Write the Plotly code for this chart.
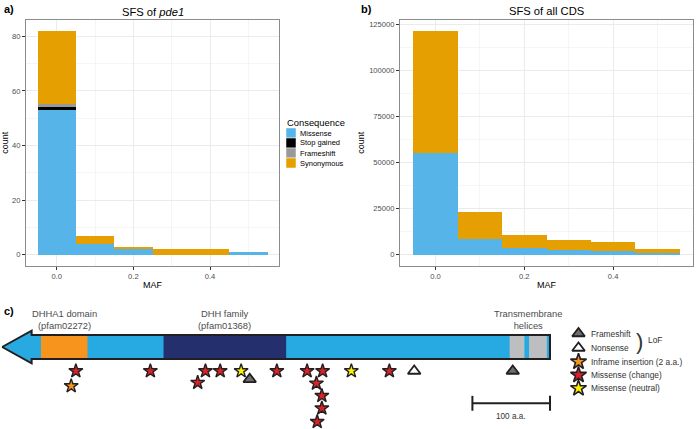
import plotly.graph_objects as go

W, H = 696, 429

# ---------------- data: panels a & b ----------------
maf_bins = [0.0, 0.1, 0.2, 0.3, 0.4, 0.5]
bin_width = 0.1
consequences = ["Missense", "Stop gained", "Frameshift", "Synonymous"]
cons_colors = ["#56B4E9", "#000000", "#999999", "#E69F00"]

pde1_missense = [53, 4, 2, 0, 0, 1]
pde1_stop = [1, 0, 0, 0, 0, 0]
pde1_frameshift = [1, 0, 0, 0, 0, 0]
pde1_synonymous = [27, 3, 1, 2, 2, 0]

cds_missense = [55200, 8800, 3700, 2600, 2100, 900]
cds_stop = [0, 0, 0, 0, 0, 0]
cds_frameshift = [0, 0, 0, 0, 0, 0]
cds_synonymous = [66500, 14600, 7300, 5300, 4900, 2300]

maf_ticks = [0.0, 0.2, 0.4]
maf_ticktext = ["0.0", "0.2", "0.4"]
pde1_yticks = [0, 20, 40, 60, 80]
cds_yticks = [0, 25000, 50000, 75000, 100000, 125000]

# ---------------- data: panel c (protein diagram, amino-acid positions) ----------------
protein_length = 706
arrow_head_start = 668
domain_names = ["DHHA1", "DHH", "TM1", "TM2"]
domain_starts = [596, 340, 33, 4]
domain_ends = [656, 498, 52, 27]
domain_colors = ["#F7941D", "#24306E", "#BCBEC0", "#BCBEC0"]
label_texts = ["DHHA1 domain<br>(pfam02272)", "DHH family<br>(pfam01368)", "Transmembrane<br>helices"]
label_from = [596, 340, 4]
label_to = [656, 498, 52]

var_pos = [611, 617, 515, 444, 454, 425, 398, 387, 352, 313, 293, 301, 294, 294, 300, 256, 207, 175, 48]
var_type = ["change", "inframe", "change", "change", "change", "change", "neutral", "frameshift",
            "change", "change", "change", "change", "change", "change", "change", "neutral",
            "change", "nonsense", "frameshift"]
var_lane = [-2.0, -3.25, -2.0, -2.0, -2.97, -2.0, -2.0, -2.69, -2.0, -2.0, -2.0, -3.03, -4.06,
            -5.11, -6.23, -2.0, -2.0, -2.0, -2.0]

var_types = ["frameshift", "nonsense", "inframe", "change", "neutral"]
var_labels = ["Frameshift", "Nonsense", "Inframe insertion (2 a.a.)", "Missense (change)", "Missense (neutral)"]
var_symbols = ["triangle-up", "triangle-up", "star", "star", "star"]
var_colors = ["#6D6E71", "#FFFFFF", "#F7941D", "#D9232A", "#FFF200"]
scale_bar_aa = 100

# ---------------- layout helpers (pixel geometry) ----------------
def px_x(x):
    return x / W

def px_y(y):
    return 1 - y / H

A_X = [26, 279]
B_X = [400, 693]
AB_Y = [19.5, 266]
C_Y = [300, 429]
aa_px = 0.776           # pixels per amino acid
aa_right_px = 550       # pixel of aa 0
unit_px = 12            # pixels per y unit in panel c
bar_center_px = 347

c_xrange = [aa_right_px / aa_px, (aa_right_px - W) / aa_px]
c_yrange = [(bar_center_px - C_Y[1]) / unit_px, (bar_center_px - C_Y[0]) / unit_px]

fig = go.Figure()

series_a = [pde1_missense, pde1_stop, pde1_frameshift, pde1_synonymous]
series_b = [cds_missense, cds_stop, cds_frameshift, cds_synonymous]
for name, col, va, vb in zip(consequences, cons_colors, series_a, series_b):
    fig.add_trace(go.Bar(x=maf_bins, y=va, width=bin_width, name=name, marker=dict(color=col, line=dict(width=0)),
                         xaxis="x", yaxis="y", showlegend=False))
    fig.add_trace(go.Bar(x=maf_bins, y=vb, width=bin_width, name=name, marker=dict(color=col, line=dict(width=0)),
                         xaxis="x2", yaxis="y2", showlegend=False))

# ---------------- panel c ----------------
bar_half = 1.0
head_half = 1.36
outline_col = "#231F20"
arrow_x = [protein_length, arrow_head_start, arrow_head_start, 0, 0, arrow_head_start, arrow_head_start, protein_length]
arrow_y = [0, head_half, bar_half, bar_half, -bar_half, -bar_half, -head_half, 0]
fig.add_trace(go.Scatter(x=arrow_x, y=arrow_y, mode="lines", fill="toself", fillcolor="#27AAE1",
                         line=dict(width=0), xaxis="x3", yaxis="y3", showlegend=False, hoverinfo="skip"))
for s, e, c in zip(domain_starts, domain_ends, domain_colors):
    fig.add_trace(go.Scatter(x=[s, e, e, s, s], y=[-bar_half, -bar_half, bar_half, bar_half, -bar_half],
                             mode="lines", fill="toself", fillcolor=c, line=dict(width=0),
                             xaxis="x3", yaxis="y3", showlegend=False, hoverinfo="skip"))
fig.add_trace(go.Scatter(x=arrow_x, y=arrow_y, mode="lines", line=dict(width=2, color=outline_col),
                         xaxis="x3", yaxis="y3", showlegend=False, hoverinfo="skip"))

sym_map = dict(zip(var_types, var_symbols))
col_map = dict(zip(var_types, var_colors))
for p, t, l in zip(var_pos, var_type, var_lane):
    is_star = sym_map[t] == "star"
    fig.add_trace(go.Scatter(x=[p], y=[l], mode="markers",
                             marker=dict(symbol=sym_map[t], color=col_map[t], size=10.5 if is_star else 11,
                                         line=dict(width=1.4 if is_star else 1.8, color=outline_col)),
                             xaxis="x3", yaxis="y3", showlegend=False, hoverinfo="skip"))

# legend of panel c
leg_sym_x = (aa_right_px - 578.5) / aa_px
leg_txt_x = (aa_right_px - 589) / aa_px
leg_ys = [(bar_center_px - y) / unit_px for y in [333.5, 348, 361.7, 375, 388.3]]
for t, lab, y in zip(var_types, var_labels, leg_ys):
    is_star = sym_map[t] == "star"
    fig.add_trace(go.Scatter(x=[leg_sym_x], y=[y], mode="markers",
                             marker=dict(symbol=sym_map[t], color=col_map[t], size=12 if is_star else 11,
                                         line=dict(width=1.6 if is_star else 1.8, color=outline_col)),
                             xaxis="x3", yaxis="y3", showlegend=False, hoverinfo="skip"))
    fig.add_annotation(x=leg_txt_x, y=y, xref="x3", yref="y3", text=lab, showarrow=False,
                       xanchor="left", yanchor="middle", font=dict(size=8.4, color="#333333"))

# scale bar
sb_y = (bar_center_px - 403.3) / unit_px
sb_tick = 0.62
fig.add_trace(go.Scatter(x=[0, scale_bar_aa], y=[sb_y, sb_y], mode="lines", line=dict(color=outline_col, width=2),
                         xaxis="x3", yaxis="y3", showlegend=False, hoverinfo="skip"))
for xx in [0, scale_bar_aa]:
    fig.add_trace(go.Scatter(x=[xx, xx], y=[sb_y - sb_tick, sb_y + sb_tick], mode="lines",
                             line=dict(color=outline_col, width=2),
                             xaxis="x3", yaxis="y3", showlegend=False, hoverinfo="skip"))
fig.add_annotation(x=scale_bar_aa / 2, y=sb_y - 0.55, xref="x3", yref="y3", text=f"{scale_bar_aa} a.a.",
                   showarrow=False, xanchor="center", yanchor="top", font=dict(size=8.2, color="#333333"))

# domain labels
for txt, a, b in zip(label_texts, label_from, label_to):
    fig.add_annotation(x=(a + b) / 2, y=bar_half + 0.2, xref="x3", yref="y3", text=txt, showarrow=False,
                       xanchor="center", yanchor="bottom", font=dict(size=9.4, color="#4D4D4D"))

# LoF brace
fig.add_annotation(x=(aa_right_px - 639) / aa_px, y=(bar_center_px - 341) / unit_px, xref="x3", yref="y3",
                   text=")", showarrow=False, xanchor="center", yanchor="middle",
                   font=dict(size=22, color="#333333", family="DejaVu Sans ExtraLight, Liberation Sans"))
fig.add_annotation(x=(aa_right_px - 646) / aa_px, y=(bar_center_px - 340) / unit_px, xref="x3", yref="y3",
                   text="LoF", showarrow=False, xanchor="left", yanchor="middle", font=dict(size=8.4, color="#333333"))

# ---------------- axes styling ----------------
grid_major = "#EBEBEB"
grid_minor = "#F5F5F5"
border = "#8C8C8C"
tickfont = dict(size=7.6, color="#4D4D4D")
common_x = dict(range=[-0.08, 0.58], tickvals=maf_ticks, ticktext=maf_ticktext, showgrid=True, gridcolor=grid_major,
                gridwidth=1, minor=dict(tickvals=[0.1, 0.3, 0.5], showgrid=True, gridcolor=grid_minor, ticks=""),
                zeroline=False, showline=True, mirror=True, linecolor=border, linewidth=1, ticks="outside",
                ticklen=3, tickcolor="#333333", tickfont=tickfont,
                title=dict(text="MAF", font=dict(size=9, color="#000000"), standoff=1), automargin=False)
ydom = [px_y(AB_Y[1]), px_y(AB_Y[0])]
common_y = dict(showgrid=True, gridcolor=grid_major, zeroline=False, showline=True, mirror=True, linecolor=border,
                linewidth=1, ticks="outside", ticklen=3, tickcolor="#333333", tickfont=tickfont,
                title=dict(text="count", font=dict(size=9, color="#000000"), standoff=2), automargin=False,
                domain=ydom)

fig.update_layout(
    width=W, height=H, margin=dict(l=0, r=0, t=0, b=0, autoexpand=False), paper_bgcolor="white",
    plot_bgcolor="white", barmode="stack", bargap=0, showlegend=False,
    font=dict(family="Liberation Sans, Arial, sans-serif", color="#000000"),
    xaxis=dict(domain=[px_x(A_X[0]), px_x(A_X[1])], anchor="y", **common_x),
    yaxis=dict(anchor="x", range=[-4.1, 86.1], tickvals=pde1_yticks, ticktext=[str(v) for v in pde1_yticks],
               minor=dict(tickvals=[10, 30, 50, 70], showgrid=True, gridcolor=grid_minor, ticks=""), **common_y),
    xaxis2=dict(domain=[px_x(B_X[0]), px_x(B_X[1])], anchor="y2", **common_x),
    yaxis2=dict(anchor="x2", range=[-6090, 127850], tickvals=cds_yticks, ticktext=[str(v) for v in cds_yticks],
                minor=dict(tickvals=[12500, 37500, 62500, 87500, 112500], showgrid=True, gridcolor=grid_minor,
                           ticks=""),
                **common_y),
    xaxis3=dict(domain=[0, 1], anchor="y3", range=c_xrange, visible=False, fixedrange=True),
    yaxis3=dict(domain=[px_y(C_Y[1]), px_y(C_Y[0])], anchor="x3", range=c_yrange, visible=False, fixedrange=True),
)

# titles and panel labels
fig.add_annotation(x=px_x(sum(A_X) / 2), y=px_y(11.5), xref="paper", yref="paper", text="SFS of <i>pde1</i>",
                   showarrow=False, xanchor="center", yanchor="middle", font=dict(size=11.2))
fig.add_annotation(x=px_x(sum(B_X) / 2), y=px_y(10.5), xref="paper", yref="paper", text="SFS of all CDS",
                   showarrow=False, xanchor="center", yanchor="middle", font=dict(size=11.2))
for lab, xx, yy in [("a)", 1.5, 9), ("b)", 358.5, 9), ("c)", 1.5, 310.5)]:
    fig.add_annotation(x=px_x(xx), y=px_y(yy), xref="paper", yref="paper", text=f"<b>{lab}</b>", showarrow=False,
                       xanchor="left", yanchor="middle", font=dict(size=11))

# manual legend for panel a
fig.add_annotation(x=px_x(285), y=px_y(123), xref="paper", yref="paper", text="Consequence", showarrow=False,
                   xanchor="left", yanchor="middle", font=dict(size=9.4))
for i, (name, col) in enumerate(zip(consequences, cons_colors)):
    top = 128 + 10 * i
    fig.add_shape(type="rect", xref="paper", yref="paper", x0=px_x(286), x1=px_x(296), y0=px_y(top + 10),
                  y1=px_y(top), fillcolor=col, line=dict(width=0.5, color="#FFFFFF"))
    fig.add_annotation(x=px_x(297.5), y=px_y(top + 5), xref="paper", yref="paper", text=name, showarrow=False,
                       xanchor="left", yanchor="middle", font=dict(size=7.5))

fig.write_html("out.html", config={"displayModeBar": False, "staticPlot": True},
               post_script="document.body.style.margin='0';")
